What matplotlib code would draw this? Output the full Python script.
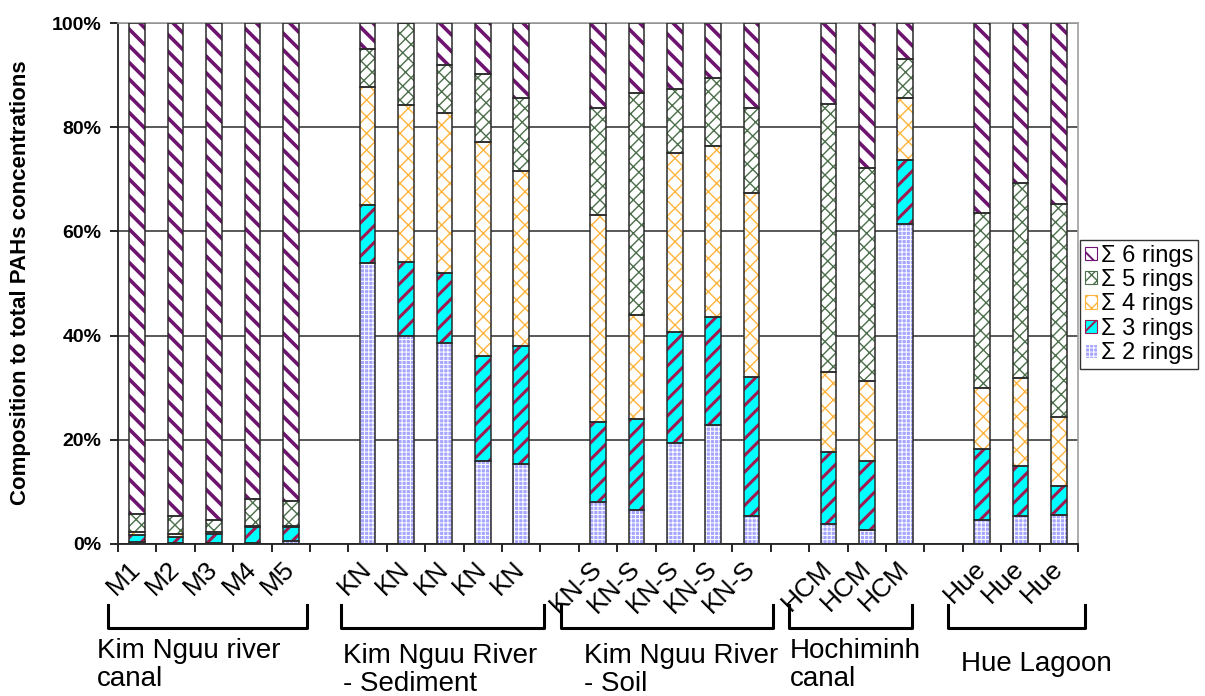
import numpy as np
import matplotlib
matplotlib.use('Agg')
import matplotlib.pyplot as plt
import matplotlib.transforms as mtransforms
from matplotlib.patches import Patch

plt.rcParams['font.family'] = ['Liberation Sans', 'DejaVu Sans']

# samples, grouped by site (one empty slot between groups)
samples = ['M1', 'M2', 'M3', 'M4', 'M5',
           'KN', 'KN', 'KN', 'KN', 'KN',
           'KN-S', 'KN-S', 'KN-S', 'KN-S', 'KN-S',
           'HCM', 'HCM', 'HCM',
           'Hue', 'Hue', 'Hue']
group_sizes = [5, 5, 5, 3, 3]
group_names = ['Kim Nguu river\ncanal', 'Kim Nguu River\n- Sediment',
               'Kim Nguu River\n- Soil', 'Hochiminh\ncanal', 'Hue Lagoon']

# % composition of each ring class
ring2 = [0.3, 0.2, 0.1, 0.1, 0.5,
         54.0, 39.9, 38.5, 16.0, 15.4,
         8.0, 6.5, 19.3, 22.8, 5.4,
         3.8, 2.6, 61.4,
         4.6, 5.4, 5.6]
ring3 = [1.4, 1.2, 1.8, 3.2, 2.8,
         11.1, 14.2, 13.5, 20.0, 22.6,
         15.5, 17.4, 21.3, 20.7, 26.7,
         13.9, 13.4, 12.3,
         13.6, 9.6, 5.6]
ring4 = [0.6, 0.5, 0.4, 0.1, 0.1,
         22.7, 30.2, 30.7, 41.2, 33.5,
         39.6, 20.1, 34.4, 32.8, 35.3,
         15.3, 15.2, 12.0,
         11.8, 16.9, 13.2]
ring5 = [3.5, 3.5, 2.3, 5.2, 4.9,
         7.2, 15.7, 9.2, 13.1, 14.2,
         20.5, 42.6, 12.3, 13.2, 16.2,
         51.4, 41.0, 7.3,
         33.6, 37.3, 40.8]
ring6 = [94.2, 94.6, 95.4, 91.4, 91.7,
         5.0, 0.0, 8.1, 9.7, 14.3,
         16.4, 13.4, 12.7, 10.5, 16.4,
         15.6, 27.8, 7.0,
         36.4, 30.8, 34.8]

# brace extents under each group (x in slot units)
brace_x0 = [-0.76, 5.31, 11.04, 16.97, 21.11]
brace_x1 = [4.42, 10.59, 16.56, 20.18, 24.68]

data = np.array([ring2, ring3, ring4, ring5, ring6])
data = data / data.sum(axis=0) * 100

# slot positions: groups separated by one empty slot
pos = []
start = 0
for n in group_sizes:
    pos += list(range(start, start + n))
    start += n + 1
pos = np.array(pos)
last = pos[-1]

labels = ['\u03a3 2 rings', '\u03a3 3 rings', '\u03a3 4 rings', '\u03a3 5 rings', '\u03a3 6 rings']
faces = ['#a5a5ff', '#00ffff', 'white', 'white', 'white']
hcolors = ['white', '#a01a50', '#ffb43c', '#4b6e4b', '#6e1470']
hatches = ['++++', '//', 'xx', '///\\\\', '\\\\']
hlw = [0.7, 2.2, 1.0, 1.0, 2.6]

fig = plt.figure(figsize=(12.05, 6.96), dpi=100)
ax = fig.add_axes([118 / 1205, 1 - 544 / 696, 960 / 1205, 521 / 696])

width = 0.41
bottom = np.zeros(len(samples))
handles = []
for i in range(5):
    plt.rcParams['hatch.linewidth'] = hlw[i]
    bars = ax.bar(pos, data[i], width, bottom=bottom, color=faces[i],
                  edgecolor=hcolors[i], hatch=hatches[i], linewidth=0, zorder=2)
    for b in bars:
        if hasattr(b, 'set_hatch_linewidth'):
            b.set_hatch_linewidth(hlw[i])
    ax.bar(pos, data[i], width, bottom=bottom, fill=False,
           edgecolor='#2a2a2a', linewidth=1.1, zorder=3)
    handles.append(Patch(facecolor=faces[i], edgecolor=hcolors[i], hatch=hatches[i],
                         label=labels[i]))
    bottom += data[i]

ax.set_xlim(-0.5, last + 0.5)
ax.set_ylim(0, 100)
ax.set_yticks(np.arange(0, 101, 20))
ax.set_yticklabels([f'{v}%' for v in range(0, 101, 20)], fontsize=14, fontweight='bold')
ax.yaxis.grid(True, color='#3c3c3c', linewidth=1.2)
ax.set_axisbelow(True)

ax.set_xticks(pos)
ax.set_xticklabels(samples, rotation=45, ha='right', va='center',
                   rotation_mode='anchor', fontsize=19)
ax.set_xticks(np.arange(-0.5, last + 1, 1), minor=True)
ax.tick_params(axis='x', which='major', length=0, pad=15)
ax.tick_params(axis='x', which='minor', length=6, width=1.2, direction='out')
ax.tick_params(axis='y', length=6, width=1.2, direction='out', pad=6)

for s in ['left', 'bottom']:
    ax.spines[s].set_color('#222222')
    ax.spines[s].set_linewidth(1.3)
for s in ['top', 'right']:
    ax.spines[s].set_color('#a0a0a0')
    ax.spines[s].set_linewidth(1.2)

fig.text(21 / 1205, 1 - 283 / 696, 'Composition to total PAHs concentrations',
         rotation=90, ha='center', va='center', fontsize=16, fontweight='bold')

# group braces and names
trans = mtransforms.blended_transform_factory(ax.transData, ax.transAxes)
ytop = -(605 - 544) / 521
ybot = -(628 - 544) / 521
for x0, x1 in zip(brace_x0, brace_x1):
    ax.plot([x0, x0, x1, x1], [ytop, ybot, ybot, ytop], color='black', lw=2.2,
            transform=trans, clip_on=False, solid_joinstyle='round')

name_x = [97, 343, 584, 790, 961]
name_y = [638, 643, 643, 638, 651]
for nm, x, y in zip(group_names, name_x, name_y):
    fig.text(x / 1205, 1 - y / 696, nm, ha='left', va='top', fontsize=20,
             linespacing=1.08)

leg = fig.legend(handles[::-1], labels[::-1], loc='upper left',
                 bbox_to_anchor=(1080 / 1205, 1 - 240 / 696), fontsize=17,
                 frameon=True, fancybox=False, handlelength=0.5, handleheight=0.5,
                 handletextpad=0.2, borderpad=0.2, labelspacing=0.1, borderaxespad=0)
leg.get_frame().set_edgecolor('black')
leg.get_frame().set_linewidth(1.0)
for p, w in zip(leg.get_patches(), hlw[::-1]):
    p.set_linewidth(0.8)
    if hasattr(p, 'set_hatch_linewidth'):
        p.set_hatch_linewidth(min(w, 1.4))

fig.savefig('out.png', dpi=100)
